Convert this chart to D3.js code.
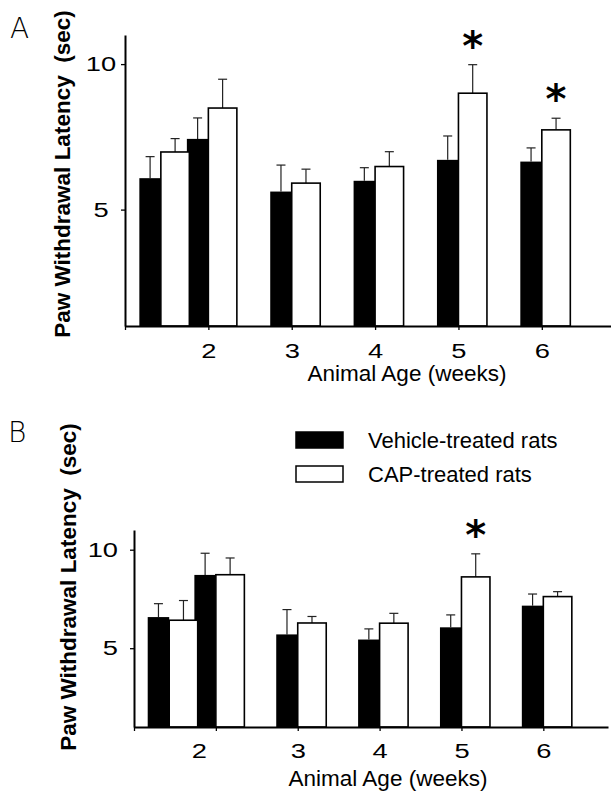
<!DOCTYPE html>
<html>
<head>
<meta charset="utf-8">
<script src="https://cdn.jsdelivr.net/npm/d3@7"></script>
<style>
  body { margin: 0; background: #fff; }
  svg { display: block; font-family: "Liberation Sans", Arial, sans-serif; }
</style>
</head>
<body>
<svg id="canvas" width="611" height="794"></svg>
<script>
// age of each group in weeks (first group = 10 days)
const weeks = [1.43, 2, 3, 4, 5, 6]
const tickWeeks = [1, 2, 3, 4, 5, 6]
const tickLabels = ['', '2', '3', '4', '5', '6']
const yTicks = [5, 10]
const seriesNames = ['Vehicle-treated rats', 'CAP-treated rats']

// panel A
const vehA = [6.08, 7.43, 5.62, 5.99, 6.71, 6.65]
const vehAErr = [0.74, 0.72, 0.91, 0.45, 0.82, 0.47]
const capA = [6.98, 8.49, 5.91, 6.48, 9.0, 7.74]
const capAErr = [0.46, 0.99, 0.48, 0.51, 0.98, 0.40]
const sigA = [false, false, false, false, true, true]

// panel B
const vehB = [6.58, 8.72, 5.70, 5.44, 6.06, 7.16]
const vehBErr = [0.68, 1.10, 1.26, 0.54, 0.63, 0.59]
const capB = [6.42, 8.73, 6.28, 6.27, 8.62, 7.62]
const capBErr = [1.0, 0.85, 0.33, 0.50, 1.17, 0.25]
const sigB = [false, false, false, false, true, false]

let svg = d3.select('#canvas')
svg.append('rect').attr('width', 611).attr('height', 794).attr('fill', '#fff')

const blackW = 21.5, whiteW = 28.5, capW = 9, sx = 1.3

let drawPanel = (p) => {
  let x = d3.scaleLinear().domain([1, p.xMax]).range([p.left, p.right])
  let y = d3.scaleLinear().domain([1, 11]).range([p.bottom, p.top])
  let g = svg.append('g')

  let rows = weeks.map((w, i) => ({
    w: w, veh: p.veh[i], vehErr: p.vehErr[i], cap: p.cap[i], capErr: p.capErr[i], sig: p.sig[i]
  }))

  // error bars (drawn under the bars, start at bar top)
  let errs = []
  rows.forEach(r => {
    errs.push({cx: x(r.w) - blackW / 2, v: r.veh, e: r.vehErr})
    errs.push({cx: x(r.w) + whiteW / 2, v: r.cap, e: r.capErr})
  })
  let eg = g.append('g').attr('stroke', '#222').attr('stroke-width', 1.2)
  eg.selectAll('line.v').data(errs).enter().append('line')
    .attr('x1', d => d.cx).attr('x2', d => d.cx)
    .attr('y1', d => y(d.v)).attr('y2', d => y(d.v + d.e))
  eg.selectAll('line.c').data(errs).enter().append('line')
    .attr('x1', d => d.cx - capW / 2).attr('x2', d => d.cx + capW / 2)
    .attr('y1', d => y(d.v + d.e)).attr('y2', d => y(d.v + d.e))

  g.selectAll('rect.veh').data(rows).enter().append('rect')
    .attr('x', d => x(d.w) - blackW).attr('width', blackW)
    .attr('y', d => y(d.veh)).attr('height', d => y(1) - y(d.veh))
    .attr('fill', '#000')

  g.selectAll('rect.cap').data(rows).enter().append('rect')
    .attr('x', d => x(d.w)).attr('width', whiteW)
    .attr('y', d => y(d.cap)).attr('height', d => y(1) - y(d.cap))
    .attr('fill', '#fff').attr('stroke', '#000').attr('stroke-width', 1.6)

  // significance stars
  g.selectAll('text.star').data(rows.filter(d => d.sig)).enter().append('text')
    .attr('x', d => x(d.w) + whiteW / 2)
    .attr('y', d => y(d.cap + d.capErr) - 5)
    .attr('text-anchor', 'middle')
    .style('font-family', '"DejaVu Sans", sans-serif')
    .style('font-weight', 'bold')
    .style('font-size', '40px')
    .text('*')

  // axes
  let xAxis = d3.axisBottom(x).tickValues(tickWeeks)
    .tickFormat((d, i) => tickLabels[i]).tickSize(4).tickPadding(p.xPad).tickSizeOuter(0)
  let xg = g.append('g').attr('transform', `translate(0,${p.bottom})`).call(xAxis)
  xg.selectAll('text').attr('transform', `scale(${sx},1)`)
  xg.selectAll('text').filter(d => d === 2).attr('dx', p.twoShift / sx)

  let yAxis = d3.axisLeft(y).tickValues(yTicks).tickFormat(d3.format('d')).tickSize(4).tickSizeOuter(0)
  let yg = g.append('g').attr('transform', `translate(${p.left},0)`).call(yAxis)
  yg.selectAll('text').attr('transform', `scale(${sx},1)`)
    .attr('x', p.yLabelX / sx).attr('text-anchor', p.yAnchor)

  ;[xg, yg].forEach(a => {
    a.select('.domain').attr('stroke', '#000').attr('stroke-width', 2)
    a.selectAll('.tick line').attr('stroke', '#000').attr('stroke-width', 1.3)
    a.selectAll('text').attr('fill', '#000').style('font-size', '21px')
      .style('font-family', '"Liberation Sans", Arial, sans-serif')
  })

  // titles
  g.append('text').attr('x', p.xTitleX).attr('y', p.xTitleY)
    .attr('text-anchor', 'middle').style('font-size', '22.5px')
    .text('Animal Age (weeks)')

  g.append('text')
    .attr('transform', `translate(${p.yTitleX},${p.yTitleY}) rotate(-90)`)
    .attr('text-anchor', 'middle').style('font-size', '22.5px').style('font-weight', 'bold')
    .style('white-space', 'pre')
    .text('Paw Withdrawal Latency  (sec)')

  g.append('text').attr('x', p.letterX).attr('y', p.letterY)
    .style('font-family', '"DejaVu Sans", sans-serif').style('font-weight', 200)
    .style('font-size', '28px').text(p.letter)
}

drawPanel({
  letter: 'A', letterX: 10, letterY: 38,
  left: 125, right: 611, xMax: 6.83, top: 35, bottom: 326,
  veh: vehA, vehErr: vehAErr, cap: capA, capErr: capAErr, sig: sigA,
  xPad: 13, twoShift: 0, yLabelX: -24, yAnchor: 'middle',
  xTitleX: 407, xTitleY: 381, yTitleX: 70, yTitleY: 174
})

drawPanel({
  letter: 'B', letterX: 8, letterY: 442,
  left: 134, right: 608, xMax: 6.79, top: 530, bottom: 727,
  veh: vehB, vehErr: vehBErr, cap: capB, capErr: capBErr, sig: sigB,
  xPad: 12, twoShift: -17, yLabelX: -16, yAnchor: 'end',
  xTitleX: 388, xTitleY: 786, yTitleX: 76, yTitleY: 587
})

// legend (panel B)
let legend = svg.append('g')
legend.selectAll('rect').data(seriesNames).enter().append('rect')
  .attr('x', 296).attr('y', (d, i) => 432 + i * 34)
  .attr('width', 47).attr('height', 16)
  .attr('fill', (d, i) => i === 0 ? '#000' : '#fff')
  .attr('stroke', '#000').attr('stroke-width', 1.5)
legend.selectAll('text').data(seriesNames).enter().append('text')
  .attr('x', 368).attr('y', (d, i) => 448 + i * 33.5)
  .style('font-size', '22px')
  .text(d => d)
</script>
</body>
</html>
